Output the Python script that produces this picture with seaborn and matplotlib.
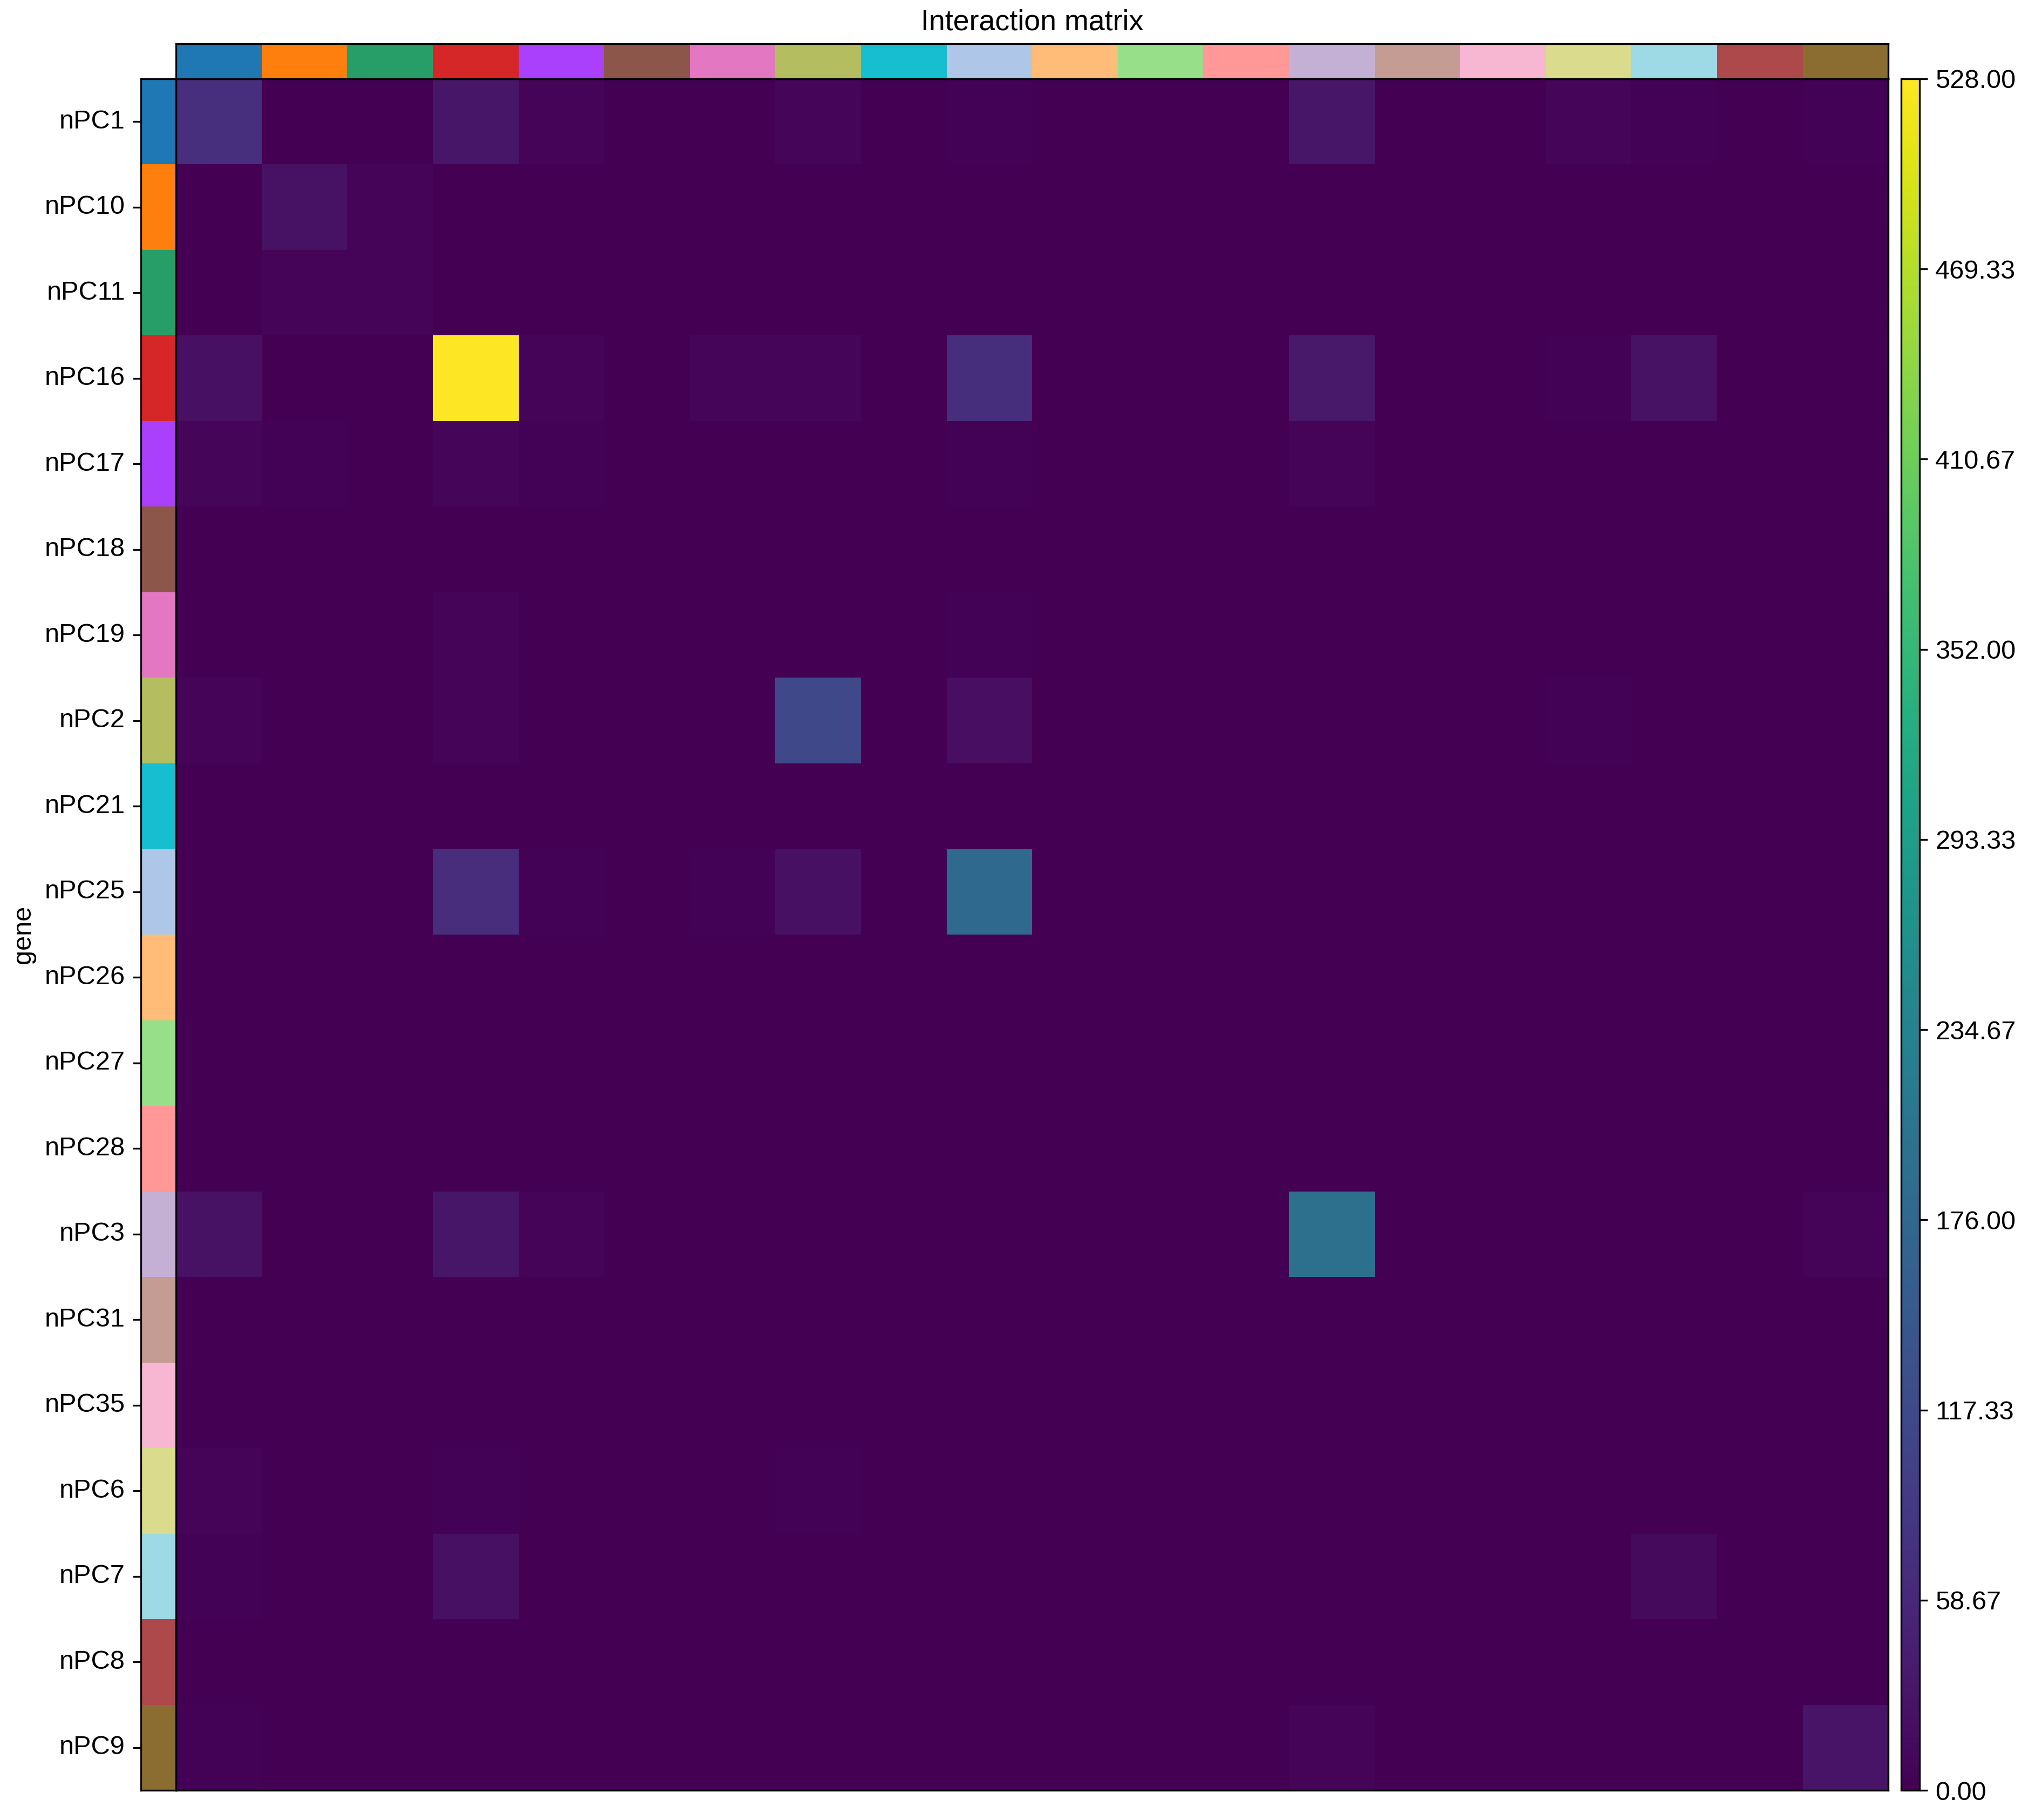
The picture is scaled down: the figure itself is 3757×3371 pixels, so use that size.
import numpy as np
import pandas as pd
import seaborn as sns
from matplotlib import pyplot as plt
from matplotlib.colors import ListedColormap

plt.rcParams["font.family"] = ["Liberation Sans", "DejaVu Sans"]

clusters = ["nPC1", "nPC10", "nPC11", "nPC16", "nPC17", "nPC18", "nPC19", "nPC2",
            "nPC21", "nPC25", "nPC26", "nPC27", "nPC28", "nPC3", "nPC31", "nPC35",
            "nPC6", "nPC7", "nPC8", "nPC9"]

cluster_colors = ["#1f77b4", "#ff7f0e", "#279e68", "#d62728", "#aa40fc", "#8c564b",
                  "#e377c2", "#b5bd61", "#17becf", "#aec7e8", "#ffbb78", "#98df8a",
                  "#ff9896", "#c5b0d5", "#c49c94", "#f7b6d2", "#dbdb8d", "#9edae5",
                  "#ad494a", "#8c6d31"]

# interaction counts, rows and columns in the order of clusters
row_nPC1 = [72, 0, 0, 30, 6, 2, 2, 8, 2, 3, 1, 1, 1, 30, 1, 2, 7, 4, 2, 3]
row_nPC10 = [0, 24, 5, 1, 1, 1, 1, 1, 1, 1, 1, 1, 1, 1, 1, 1, 1, 1, 1, 1]
row_nPC11 = [1, 5, 5, 1, 1, 1, 1, 1, 1, 1, 1, 1, 1, 1, 1, 1, 1, 1, 1, 1]
row_nPC16 = [22, 1, 1, 528, 6, 2, 7, 7, 2, 70, 1, 1, 1, 33, 1, 1, 4, 24, 1, 1]
row_nPC17 = [8, 3, 2, 7, 4, 2, 2, 2, 2, 3, 2, 2, 2, 5, 2, 2, 2, 2, 2, 2]
row_nPC18 = [1, 1, 1, 1, 1, 1, 1, 1, 1, 1, 1, 1, 1, 1, 1, 1, 1, 1, 1, 1]
row_nPC19 = [1, 1, 1, 5, 1, 1, 1, 1, 1, 3, 1, 1, 1, 1, 1, 1, 1, 1, 1, 1]
row_nPC2 = [6, 1, 1, 6, 1, 1, 1, 115, 1, 20, 1, 1, 1, 1, 1, 1, 4, 1, 1, 1]
row_nPC21 = [1, 1, 1, 1, 1, 1, 1, 1, 1, 1, 1, 1, 1, 1, 1, 1, 1, 1, 1, 1]
row_nPC25 = [2, 1, 1, 68, 4, 1, 4, 22, 1, 178, 1, 1, 1, 1, 1, 1, 1, 2, 1, 1]
row_nPC26 = [1, 1, 1, 1, 1, 1, 1, 1, 1, 1, 1, 1, 1, 1, 1, 1, 1, 1, 1, 1]
row_nPC27 = [1, 1, 1, 1, 1, 1, 1, 1, 1, 1, 1, 1, 1, 1, 1, 1, 1, 1, 1, 1]
row_nPC28 = [1, 1, 1, 1, 1, 1, 1, 1, 1, 1, 1, 1, 1, 1, 1, 1, 1, 1, 1, 1]
row_nPC3 = [24, 1, 1, 30, 5, 1, 1, 1, 1, 1, 1, 1, 1, 192, 1, 1, 1, 1, 1, 6]
row_nPC31 = [1, 1, 1, 1, 1, 1, 1, 1, 1, 1, 1, 1, 1, 1, 1, 1, 1, 1, 1, 1]
row_nPC35 = [1, 1, 1, 1, 1, 1, 1, 1, 1, 1, 1, 1, 1, 1, 1, 1, 1, 1, 1, 1]
row_nPC6 = [6, 1, 1, 4, 1, 1, 1, 4, 1, 1, 1, 1, 1, 1, 1, 1, 1, 1, 1, 1]
row_nPC7 = [3, 1, 1, 22, 1, 1, 1, 1, 1, 2, 1, 1, 1, 1, 1, 1, 1, 14, 1, 1]
row_nPC8 = [1, 1, 1, 1, 1, 1, 1, 1, 1, 1, 1, 1, 1, 1, 1, 1, 1, 1, 1, 1]
row_nPC9 = [3, 2, 2, 2, 1, 1, 1, 1, 1, 1, 1, 1, 1, 5, 1, 1, 1, 1, 1, 28]

rows = [row_nPC1, row_nPC10, row_nPC11, row_nPC16, row_nPC17, row_nPC18, row_nPC19,
        row_nPC2, row_nPC21, row_nPC25, row_nPC26, row_nPC27, row_nPC28, row_nPC3,
        row_nPC31, row_nPC35, row_nPC6, row_nPC7, row_nPC8, row_nPC9]
df = pd.DataFrame(rows, index=clusters, columns=clusters)

vmax = 528
fs = 11.7

fig = plt.figure(figsize=(3757 / 300, 3371 / 300), dpi=300)
ax = fig.add_axes([0.0868, 0.0163, 0.8443, 0.9404])
top_ax = fig.add_axes([0.0868, 0.9567, 0.8443, 0.0193])
left_ax = fig.add_axes([0.0695, 0.0163, 0.0173, 0.9404])
cax = fig.add_axes([0.9375, 0.0163, 0.00905, 0.9404])

sns.heatmap(df, ax=ax, cmap="viridis", vmin=0, vmax=vmax, cbar_ax=cax,
            xticklabels=False, yticklabels=False,
            cbar_kws={"ticks": np.linspace(0, vmax, 10), "format": "%.2f"})
ax.set_xlabel("")
ax.set_ylabel("")
for s in ax.spines.values():
    s.set_visible(True)
    s.set_color("black")

cat_cmap = ListedColormap(cluster_colors)
sns.heatmap(np.arange(len(clusters))[None, :], ax=top_ax, cmap=cat_cmap, cbar=False,
            xticklabels=False, yticklabels=False)
sns.heatmap(np.arange(len(clusters))[:, None], ax=left_ax, cmap=cat_cmap, cbar=False,
            xticklabels=False, yticklabels=clusters)
for a in (top_ax, left_ax):
    for s in a.spines.values():
        s.set_visible(True)
        s.set_color("black")

left_ax.set_yticklabels(clusters, rotation=0, fontsize=fs)
left_ax.tick_params(axis="y", length=3.5, width=0.8)
left_ax.set_ylabel("gene", fontsize=fs)
top_ax.set_title("Interaction matrix", fontsize=12.9)

cbar = ax.collections[0].colorbar
cbar.ax.tick_params(labelsize=fs, length=3.5, width=0.8)
cbar.outline.set_visible(True)
cbar.outline.set_edgecolor("black")
cbar.outline.set_linewidth(0.8)

fig.savefig("out.png", dpi=300)
